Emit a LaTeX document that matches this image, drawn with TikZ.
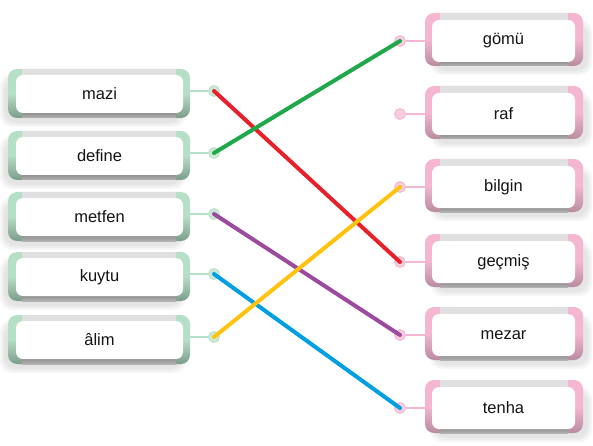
\documentclass[tikz,border=0pt]{standalone}
\usepackage{fontspec}
\setmainfont{Liberation Sans}
\definecolor{lgreen}{HTML}{B5DFC6}
\definecolor{lgreendk}{HTML}{7C9C8A}
\definecolor{lpink}{HTML}{F5B6D1}
\definecolor{lpinkdk}{HTML}{B88C9F}
\definecolor{cred}{HTML}{E8202A}
\definecolor{cgreen}{HTML}{1FA84A}
\definecolor{cpurple}{HTML}{9B4A9E}
\definecolor{cyellow}{HTML}{FFC20E}
\definecolor{cblue}{HTML}{009FE3}
\begin{document}
\begin{tikzpicture}[x=1pt,y=-1pt,
  wordbox/.style={rounded corners=7pt, fill=white, minimum width=#1, minimum height=38pt, inner sep=0pt,
    font=\fontsize{16.5}{20}\selectfont, text=black!92},
  dotL/.style={circle, minimum size=11pt, inner sep=0pt, fill=lgreen!70, draw=lgreen, line width=0.8pt},
  dotR/.style={circle, minimum size=11pt, inner sep=0pt, fill=lpink!70, draw=lpink, line width=0.8pt},
  stubL/.style={lgreen, line width=2pt},
  stubR/.style={lpink, line width=2pt},
  softshadow/.style={fill=black, opacity=0.035, rounded corners=12pt},
  link/.style={line width=4pt, line cap=round}]
\useasboundingbox (0,0) rectangle (593,446);
\newcommand\lbox[3]{%
  \fill[softshadow] (0,#2-20) rectangle (186,#2+33);
  \fill[softshadow] (2,#2-18) rectangle (184,#2+31);
  \fill[softshadow] (4,#2-16) rectangle (182,#2+29);
  \shade[rounded corners=9pt, top color=lgreen, bottom color=lgreendk, middle color=lgreen] (8,#2-25) rectangle (190,#2+24);
  \fill[black!12] (22,#2-25) rectangle (176,#2-19);
  \shade[top color=black!45, bottom color=black!30] (22,#2+18) rectangle (176,#2+24);
  \node[wordbox=167pt] (#1) at (99.5,#2) {#3};
  \node[dotL] (#1d) at (214,#2-3) {};
  \draw[stubL] (190,#2-3) -- (#1d);
}
\newcommand\rbox[3]{%
  \fill[softshadow] (430,#2-22) rectangle (592,#2+33);
  \fill[softshadow] (432,#2-20) rectangle (590,#2+31);
  \fill[softshadow] (434,#2-18) rectangle (588,#2+29);
  \shade[rounded corners=9pt, top color=lpink, bottom color=lpinkdk, middle color=lpink] (425,#2-29) rectangle (583,#2+24);
  \fill[black!12] (440,#2-29) rectangle (568,#2-22);
  \shade[top color=black!45, bottom color=black!30] (440,#2+19) rectangle (568,#2+24);
  \node[wordbox=143pt, minimum height=42pt] (#1) at (503.5,#2-1) {#3};
  \node[dotR] (#1d) at (400,#2-1) {};
  \draw[stubR] (#1d) -- (425,#2-1);
}
\lbox{L1}{94}{mazi}
\lbox{L2}{156}{define}
\lbox{L3}{217}{metfen}
\lbox{L4}{277}{kuytu}
\lbox{L5}{340}{âlim}
\rbox{R1}{42}{gömü}
\rbox{R2}{115}{raf}
\rbox{R3}{188}{bilgin}
\rbox{R4}{263}{geçmiş}
\rbox{R5}{336}{mezar}
\rbox{R6}{409}{tenha}
\draw[link, cred] (L1d.center) -- (R4d.center);
\draw[link, cgreen] (L2d.center) -- (R1d.center);
\draw[link, cpurple] (L3d.center) -- (R5d.center);
\draw[link, cblue] (L4d.center) -- (R6d.center);
\draw[link, cyellow] (L5d.center) -- (R3d.center);
\end{tikzpicture}
\end{document}
